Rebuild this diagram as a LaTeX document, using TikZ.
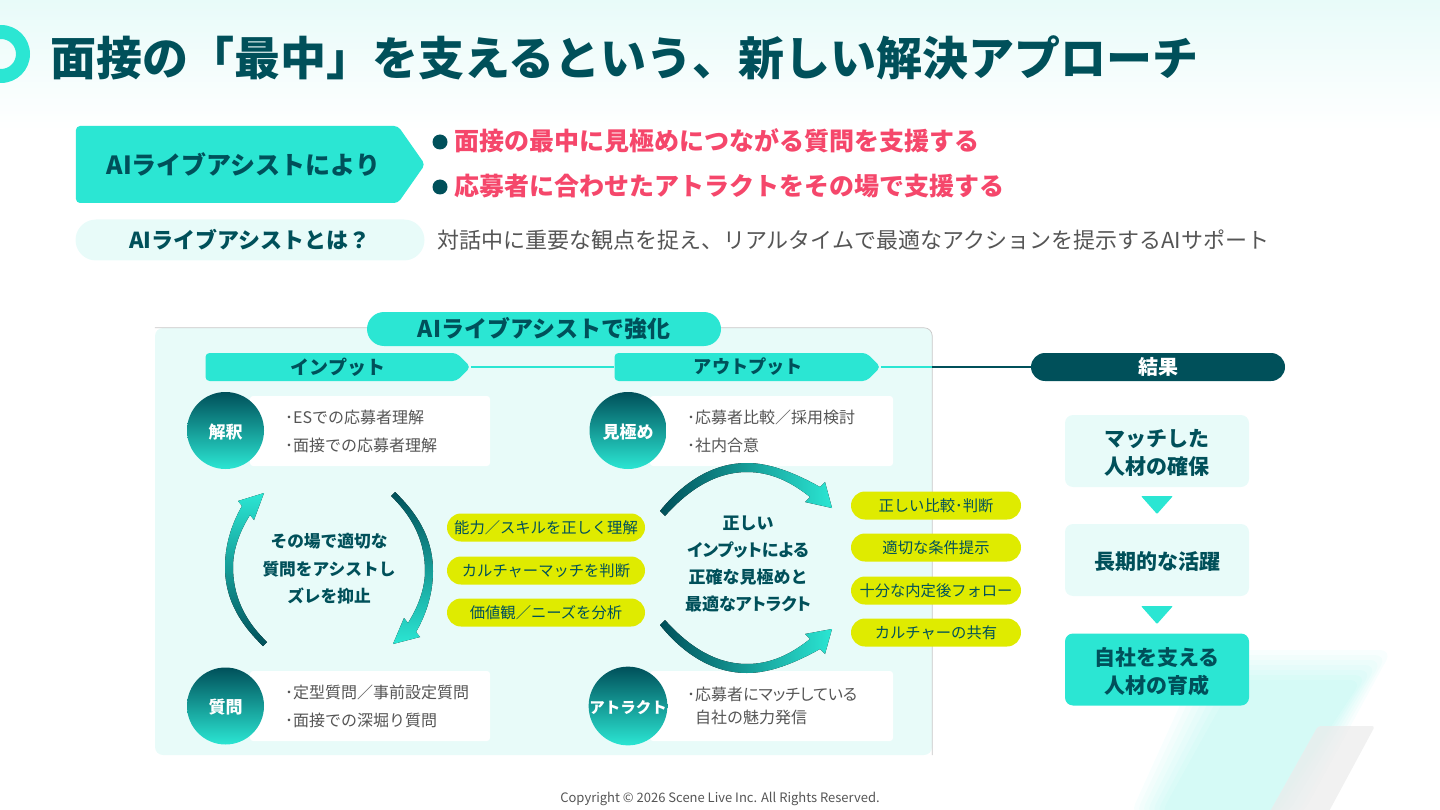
\documentclass[tikz,border=0pt]{standalone}
\usepackage{fontspec}
\setmainfont{Noto Sans CJK JP}
\usetikzlibrary{shapes.symbols,shapes.misc}

\definecolor{darkteal}{HTML}{00505A}
\definecolor{midteal}{HTML}{0A6E72}
\definecolor{accent}{HTML}{2BE6D3}
\definecolor{palebg}{HTML}{E8FBF9}
\definecolor{pillyellow}{HTML}{DFEB00}
\definecolor{alertpink}{HTML}{F5476B}
\definecolor{bodygray}{HTML}{555555}

\newcommand{\narrowkana}[1]{{\addfontfeature{RawFeature=+palt}#1}}

\tikzset{
  boldtxt/.style={text=darkteal,inner sep=0pt,align=center,font=\bfseries\fontsize{#1}{28.5}\selectfont},
  bodytxt/.style={text=bodygray,inner sep=0pt,align=left,anchor=west,font=\fontsize{16}{#1}\selectfont},
  headarrow/.style={signal,signal to=east,fill=accent,inner sep=0pt,rounded corners=4pt,text=darkteal,font=\bfseries\fontsize{19}{24}\selectfont},
  roundcircle/.style={circle,minimum size=77pt,inner sep=0pt,text height=15pt,text depth=0pt,top color=darkteal,middle color=midteal,bottom color=accent,text=white,font=\bfseries\fontsize{#1}{20}\selectfont},
  whitecard/.style={fill=white,rounded corners=3pt},
  yellowpill/.style={rounded rectangle,fill=pillyellow,minimum height=28pt,inner sep=0pt,text=darkteal,font=\fontsize{15.3}{20}\selectfont},
  resultbox/.style={rectangle,rounded corners=8pt,minimum width=184pt,minimum height=72pt,inner sep=0pt},
  bulletdot/.style={circle,fill=darkteal,minimum size=15pt,inner sep=0pt},
  pinktxt/.style={text=alertpink,inner sep=0pt,anchor=west,font=\bfseries\fontsize{25}{30}\selectfont}
}

\begin{document}
\begin{tikzpicture}[x=1pt,y=-1pt]
    \useasboundingbox (0,0) rectangle (1440,810);

    % Background
    \shade[top color=palebg,bottom color=white] (0,0) rectangle (1440,130);
    \foreach \d in {30,25,...,0} {
        \fill[accent,opacity=0.032,rounded corners=12pt]
        (1235-\d,680-\d) -- (1362+\d,680-\d) -- (1272+\d,815) -- (1160-\d,815) -- cycle;
    }
    \fill[gray!15,opacity=0.75,rounded corners=3pt]
    (1318,726) -- (1375,726) -- (1327,815) -- (1268,815) -- cycle;

    % Title
    \fill[accent,even odd rule] (1,54) circle (29) (1,54) circle (15);
    \node[boldtxt=46,anchor=west] (title) at (50,58) {面接の「最中」を支えるという、新しい解決アプローチ};

    % Upper block
    \node[headarrow,minimum width=349pt,minimum height=77pt,signal pointer angle=110,font=\bfseries\fontsize{25}{30}\selectfont]
    (assist) at (237,164.5) {\hspace*{13pt}AIライブアシストにより};
    \node[bulletdot] (dot1) at (440,142) {};
    \node[bulletdot] (dot2) at (440,187) {};
    \node[pinktxt] (point1) at (454,141) {面接の最中に見極めにつながる質問を支援する};
    \node[pinktxt] (point2) at (454,186) {応募者に合わせたアトラクトをその場で支援する};
    \node[rounded rectangle,fill=palebg,minimum width=349pt,minimum height=41pt,inner sep=0pt,boldtxt=22] (whatis) at (250,240) {AIライブアシストとは？};
    \node[bodytxt=28,font=\fontsize{22}{28}\selectfont] (whatdesc) at (437,240) {対話中に重要な観点を捉え、リアルタイムで最適なアクションを提示するAIサポート};

    % Panel
    \node[rectangle,fill=palebg,rounded corners=8pt,minimum width=777pt,minimum height=427pt,inner sep=0pt] (panel) at (543.5,541.5) {};
    \draw[gray!45,line width=0.7pt,rounded corners=8pt] (panel.north west) -- (panel.north east) -- (panel.south east);
    \node[rounded rectangle,fill=accent,minimum width=354pt,minimum height=34pt,inner sep=0pt,boldtxt=23] (panelhead) at (544,329) {AIライブアシストで強化};

    % Column heads
    \node[headarrow,minimum width=265pt,minimum height=28pt,signal pointer angle=90] (input) at (331,367) {\hspace*{14pt}インプット};
    \node[headarrow,minimum width=266pt,minimum height=28pt,signal pointer angle=90,font=\bfseries\fontsize{18.2}{24}\selectfont] (output) at (740.5,367) {\hspace*{16pt}アウトプット};
    \node[rounded rectangle,fill=darkteal,minimum width=254pt,minimum height=28pt,inner sep=0pt,text=white,font=\bfseries\fontsize{20}{24}\selectfont] (result) at (1158,367) {結果};
    \coordinate (edge) at (output.east -| panel.east);
    \draw[accent,line width=1.5pt] (input.east) -- (output.west);
    \draw[accent,line width=1.5pt] (output.east) -- (edge);
    \draw[darkteal,line width=1.5pt] (edge) -- (result.west);

    % Cards
    \fill[whitecard] (250,396) rectangle (490,466);
    \fill[whitecard] (250,671) rectangle (490,741);
    \fill[whitecard] (650,396) rectangle (893,466);
    \fill[whitecard] (650,671) rectangle (893,741);
    \node[roundcircle=17] (read) at (225.5,430.5) {解釈};
    \node[roundcircle=17] (ask) at (225.5,706) {質問};
    \node[roundcircle=17] (judge) at (628,430.5) {見極め};
    \node[roundcircle=15.5] (attract) at (628,706) {アトラクト};
    \node[bodytxt=28] (readtxt) at (285,431) {･ESでの応募者理解\\･面接での応募者理解};
    \node[bodytxt=28] (asktxt) at (285,706) {･定型質問／事前設定質問\\･面接での深堀り質問};
    \node[bodytxt=28] (judgetxt) at (687,431) {･応募者比較／採用検討\\･社内合意};
    \node[bodytxt=23] (attracttxt) at (687,706) {･\narrowkana{応募者にマッチしている}\\\phantom{･}自社の魅力発信};

    % Left cycle
    \fill[top color=accent,bottom color=darkteal]
    (263,646) .. controls (236,620) and (225,595) .. (225,567) .. controls (225,546) and (231,525) .. (242,506)
    -- (238,501) -- (264,493) -- (254,520) -- (250,515)
    .. controls (240,531) and (233,549) .. (233,567) .. controls (233,595) and (244,620) .. (267,642) -- cycle;
    \fill[top color=darkteal,bottom color=accent]
    (395,492) .. controls (422,518) and (433,543) .. (433,571) .. controls (433,592) and (427,613) .. (416,632)
    -- (420,637) -- (393,644) -- (404,618) -- (408,623)
    .. controls (418,607) and (425,589) .. (425,571) .. controls (425,543) and (414,518) .. (391,496) -- cycle;
    \node[boldtxt=16.7,font=\bfseries\fontsize{16.7}{27.5}\selectfont] (lefttxt) at (329,569) {その場で適切な\\質問をアシストし\\ズレを抑止};

    % Right cycle
    \fill[left color=darkteal,right color=accent]
    (660,511) .. controls (685,480) and (715,463) .. (747,463) .. controls (770,463) and (795,473) .. (820,487)
    -- (825,482) -- (832,508) -- (805,502) -- (810,497)
    .. controls (790,481) and (770,472) .. (747,472) .. controls (717,472) and (690,488) .. (665,516) -- cycle;
    \fill[left color=darkteal,right color=accent]
    (660,625) .. controls (685,656) and (715,673) .. (747,673) .. controls (770,673) and (795,663) .. (820,649)
    -- (825,654) -- (832,629) -- (805,634) -- (810,639)
    .. controls (790,655) and (770,664) .. (747,664) .. controls (717,664) and (690,648) .. (665,620) -- cycle;
    \node[boldtxt=17,font=\bfseries\fontsize{17}{27}\selectfont] (righttxt) at (748,563.5) {正しい\\\narrowkana{インプットによる}\\正確な見極めと\\\narrowkana{最適なアトラクト}};

    % Yellow labels
    \node[yellowpill,minimum width=198pt] (skill) at (546,527.5) {能力／スキルを正しく理解};
    \node[yellowpill,minimum width=198pt] (culture) at (546,570.5) {カルチャーマッチを判断};
    \node[yellowpill,minimum width=198pt] (needs) at (546,612.5) {価値観／ニーズを分析};
    \node[yellowpill,minimum width=170pt] (compare) at (936,505.5) {正しい比較･判断};
    \node[yellowpill,minimum width=170pt] (terms) at (936,547.5) {適切な条件提示};
    \node[yellowpill,minimum width=170pt] (follow) at (936,590.5) {十分な内定後フォロー};
    \node[yellowpill,minimum width=170pt] (share) at (936,632.5) {カルチャーの共有};

    % Results
    \node[resultbox,fill=palebg] (match) at (1157,451) {};
    \node[resultbox,fill=palebg] (longterm) at (1157,560) {};
    \node[resultbox,fill=accent] (grow) at (1157,669.5) {};
    \node[boldtxt=21] (matchtxt) at ([yshift=-2pt]match.center) {マッチした\\人材の確保};
    \node[boldtxt=21] (longtermtxt) at ([yshift=-2pt]longterm.center) {長期的な活躍};
    \node[boldtxt=21] (growtxt) at ([yshift=-2pt]grow.center) {自社を支える\\人材の育成};
    \foreach \y in {496,606} {
        \fill[accent,rounded corners=1pt] (1141,\y) -- (1173,\y) -- (1157,\y+18) -- cycle;
    }

    % Footer
    \node[text=bodygray,inner sep=0pt,font=\fontsize{13}{16}\selectfont] (copyright) at (720,798.5) {Copyright © 2026 Scene Live Inc. All Rights Reserved.};
\end{tikzpicture}
\end{document}
